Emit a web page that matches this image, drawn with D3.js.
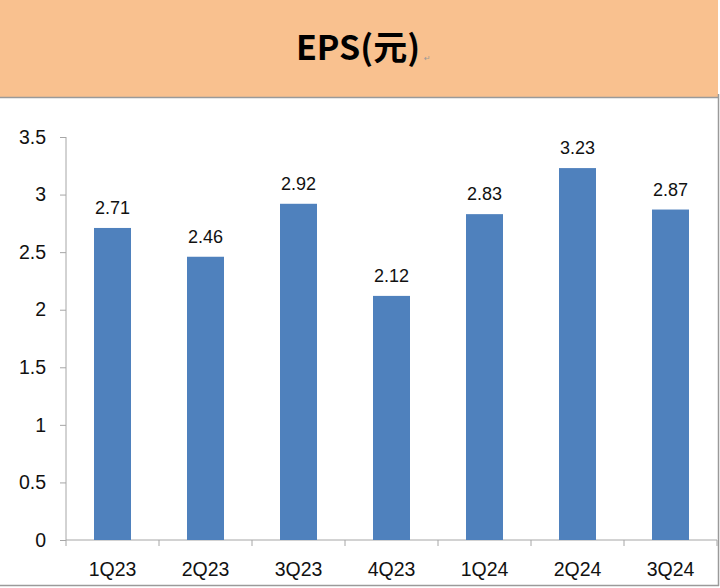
<!DOCTYPE html>
<html><head><meta charset="utf-8">
<script src="https://cdn.jsdelivr.net/npm/d3@7"></script>
<style>body{margin:0;background:#fff}svg{display:block}</style>
</head><body>
<script>
const categories = ["1Q23","2Q23","3Q23","4Q23","1Q24","2Q24","3Q24"];
const eps = [2.71,2.46,2.92,2.12,2.83,3.23,2.87];
const yTicks = [0,0.5,1,1.5,2,2.5,3,3.5];
const title = "EPS(元)";

const W=720,H=588;
const svg=d3.select("body").append("svg").attr("width",W).attr("height",H);
// title band
svg.append("rect").attr("x",0).attr("y",0).attr("width",718).attr("height",97).attr("fill","#F9C18F");
svg.append("line").attr("x1",0).attr("x2",718).attr("y1",97.5).attr("y2",97.5).attr("stroke","#9a9a9a").attr("stroke-width",1.5);
svg.append("line").attr("x1",718.5).attr("x2",718.5).attr("y1",94).attr("y2",586).attr("stroke","#9a9a9a").attr("stroke-width",1.5);
svg.append("line").attr("x1",0).attr("x2",719).attr("y1",585.5).attr("y2",585.5).attr("stroke","#9a9a9a").attr("stroke-width",1.5);
svg.append("text").attr("x",358).attr("y",60).attr("text-anchor","middle")
  .attr("font-family","'Noto Sans CJK SC','Noto Sans',sans-serif").attr("font-weight","bold").attr("font-size",34)
  .attr("fill","#000").text(title);
svg.append("text").attr("x",424).attr("y",61).attr("font-family","DejaVu Sans").attr("font-size",8).attr("fill","#999").text("↵");

const xb=d3.scaleBand().domain(categories).range([66,717]);
const y=d3.scaleLinear().domain([0,3.5]).range([540,137]);

const font="Arial, 'Liberation Sans', sans-serif";
// y axis
const ya=svg.append("g").attr("transform","translate(66,0)").call(d3.axisLeft(y).tickValues(yTicks).tickSize(6).tickPadding(14).tickFormat(d=>d3.format("")(d)));
ya.select(".domain").attr("stroke","#a6a6a6").attr("d","M0,137V540");
ya.selectAll(".tick line").attr("stroke","#a6a6a6");
ya.selectAll("text").attr("font-family",font).attr("font-size",19.5).attr("fill","#111");

// x axis
const xa=svg.append("g").attr("transform","translate(0,540)").call(d3.axisBottom(xb).tickSize(0).tickPadding(20));
xa.select(".domain").attr("stroke","#a6a6a6").attr("d","M66,0H717");
xa.selectAll("text").attr("font-family",font).attr("font-size",19.5).attr("fill","#111").attr("dy","0.8em");
const bounds=[...categories.map(c=>xb(c)), xb(categories[categories.length-1])+xb.bandwidth()];
xa.selectAll(".bt").data(bounds).enter().append("line").attr("x1",d=>d).attr("x2",d=>d).attr("y1",0).attr("y2",6).attr("stroke","#a6a6a6");

// bars
svg.selectAll(".bar").data(eps).enter().append("rect")
  .attr("x",(d,i)=>xb(categories[i])+xb.bandwidth()/2-18.5).attr("width",37)
  .attr("y",d=>y(d)).attr("height",d=>y(0)-y(d)).attr("fill","#4F81BD");
svg.selectAll(".lbl").data(eps).enter().append("text")
  .attr("x",(d,i)=>xb(categories[i])+xb.bandwidth()/2).attr("y",d=>y(d)-14)
  .attr("text-anchor","middle").attr("font-family",font).attr("font-size",18).attr("fill","#111")
  .text(d=>d.toFixed(2));
</script>
</body></html>
